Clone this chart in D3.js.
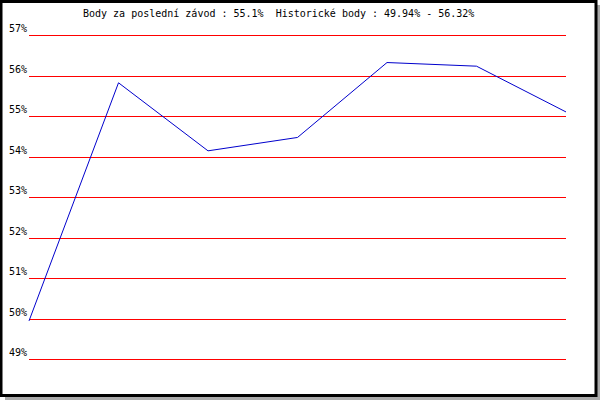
<!DOCTYPE html>
<html>
<head>
<meta charset="utf-8">
<script src="https://cdn.jsdelivr.net/npm/d3@7"></script>
<style>
  body { margin: 0; background: #fff; }
  text { font-family: "DejaVu Sans Mono", monospace; font-size: 10px; fill: #000; }
</style>
</head>
<body>
<div id="chart"></div>
<script>
// values
var races = [1, 2, 3, 4, 5, 6, 7];
var points = [49.94, 55.82, 54.14, 54.47, 56.32, 56.23, 55.1];
var yTicks = [49, 50, 51, 52, 53, 54, 55, 56, 57];
var title = "Body za poslední závod : 55.1%  Historické body : 49.94% - 56.32%";

var width = 600,
    height = 400;

var svg = d3.select("#chart").append("svg")
    .attr("width", width)
    .attr("height", height);

// shadow + frame
svg.append("rect")
    .attr("x", 5).attr("y", 5)
    .attr("width", 595).attr("height", 395)
    .style("fill", "#aaa");

svg.append("rect")
    .attr("x", 1).attr("y", 1.5)
    .attr("width", 595).attr("height", 394)
    .style("fill", "#fff")
    .style("stroke", "#000")
    .style("stroke-width", 3);

var x = d3.scalePoint()
    .domain(races)
    .range([29, 566]);

var y = d3.scaleLinear()
    .domain([49, 57])
    .range([359, 35]);

// grid lines
svg.append("g").selectAll("line")
    .data(yTicks)
    .enter()
    .append("line")
      .attr("x1", 29)
      .attr("x2", 566)
      .attr("y1", function(d) { return Math.round(y(d)) + 0.5; })
      .attr("y2", function(d) { return Math.round(y(d)) + 0.5; })
      .style("stroke", "#f00")
      .style("shape-rendering", "crispEdges");

// y labels
svg.append("g").selectAll("text")
    .data(yTicks)
    .enter()
    .append("text")
      .attr("x", 27)
      .attr("y", function(d) { return Math.round(y(d)) - 3; })
      .attr("text-anchor", "end")
      .text(function(d) { return d + "%"; });

// the series
var line = d3.line()
    .x(function(d, i) { return x(races[i]); })
    .y(function(d) { return y(d); });

svg.append("path")
    .datum(points)
    .attr("d", line)
    .style("fill", "none")
    .style("stroke", "#00c")
    .style("stroke-width", 1);

svg.append("text")
    .attr("x", 83)
    .attr("y", 17)
    .attr("xml:space", "preserve")
    .style("white-space", "pre")
    .text(title);
</script>
</body>
</html>
